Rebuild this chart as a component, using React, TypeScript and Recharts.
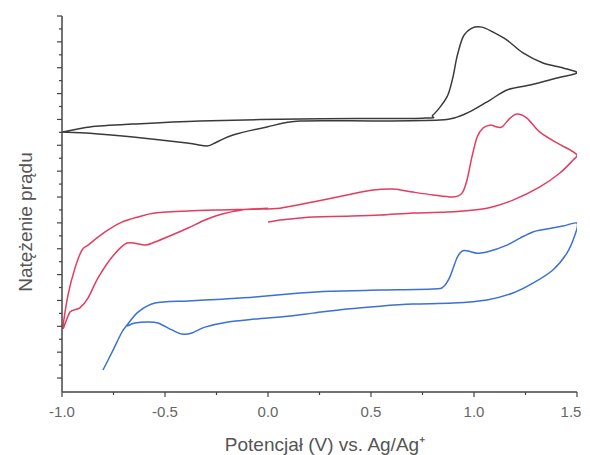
import { LineChart, Line, XAxis, YAxis, Label } from "recharts";

// potential (V vs. Ag/Ag+) and current (arb. units)
const blackV = [
  -1.0, -0.864, -0.655, -0.33, 0.155, 0.752, 0.801, 0.869, 0.898, 0.917, 0.947, 0.99, 1.039,
  1.092, 1.16, 1.238, 1.335, 1.432, 1.5, 1.403, 1.272, 1.16, 1.078, 0.995, 0.917, 0.835, 0.544,
  0.155, -0.005, -0.17, -0.248, -0.296, -0.393, -0.655, -0.864, -1.0,
];
const blackI = [
  9.51, 9.71, 9.82, 9.94, 10.02, 10.05, 10.17, 10.87, 11.64, 12.41, 13.19, 13.53, 13.57,
  13.38, 13.07, 12.57, 12.18, 11.99, 11.8, 11.6, 11.33, 11.14, 10.75, 10.36, 10.09, 9.98, 9.94,
  9.94, 9.71, 9.4, 9.13, 8.97, 9.09, 9.32, 9.47, 9.51,
];

const redV = [
  0.0, 0.058, 0.155, 0.218, 0.383, 0.544, 0.704, 0.869, 1.063, 1.189, 1.32, 1.417, 1.481, 1.5,
  1.466, 1.403, 1.32, 1.257, 1.209, 1.175, 1.136, 1.112, 1.078, 1.044, 1.015, 0.99, 0.966, 0.942,
  0.898, 0.801, 0.704, 0.607, 0.51, 0.383, 0.218, 0.058, -0.063, -0.223, -0.388, -0.549, -0.631,
  -0.709, -0.791, -0.874, -0.903, -0.937, -0.971, -0.995,
  -0.961, -0.913, -0.874, -0.825, -0.757, -0.684, -0.597, -0.549, -0.466, -0.388, -0.306, -0.223,
  -0.126, 0.0,
];
const redI = [
  6.03, 6.11, 6.19, 6.23, 6.26, 6.3, 6.38, 6.42, 6.57, 6.88, 7.39, 7.93, 8.43, 8.62,
  8.82, 9.09, 9.51, 10.05, 10.21, 10.05, 9.71, 9.71, 9.78, 9.67, 9.32, 8.55, 7.66, 7.15,
  7.0, 7.08, 7.19, 7.31, 7.27, 7.08, 6.81, 6.57, 6.53, 6.5, 6.46, 6.38, 6.23,
  6.03, 5.65, 5.14, 4.95, 4.25, 3.21, 1.93,
  2.55, 2.71, 3.09, 3.87, 4.68, 5.22, 5.14, 5.26, 5.53, 5.8, 6.11, 6.34,
  6.5, 6.57,
];

const blueV = [
  -0.801, -0.752, -0.709, -0.684, -0.631, -0.549, -0.388, -0.223, -0.063, 0.155, 0.301, 0.544,
  0.801, 0.85, 0.883, 0.917, 0.942, 0.971, 1.015, 1.063, 1.16, 1.223, 1.286, 1.354, 1.432, 1.5,
  1.49, 1.451, 1.383, 1.286, 1.189, 1.063, 0.898, 0.704, 0.544, 0.383, 0.218, 0.107, -0.063,
  -0.194, -0.306, -0.369, -0.417, -0.466, -0.534, -0.583, -0.646, -0.684,
];
const blueI = [
  0.31, 1.08, 1.78, 2.05, 2.55, 2.9, 2.98, 3.05, 3.13, 3.29, 3.36, 3.4,
  3.44, 3.52, 3.91, 4.64, 4.91, 4.91, 4.83, 4.87, 5.14, 5.41, 5.65, 5.76, 5.88, 5.99,
  5.53, 4.83, 4.18, 3.67, 3.29, 3.02, 2.9, 2.86, 2.78, 2.67, 2.51, 2.4, 2.28,
  2.17, 1.97, 1.74, 1.7, 1.86, 2.13, 2.17, 2.13, 2.01,
];

const xTicks = [-1.0, -0.75, -0.5, -0.25, 0.0, 0.25, 0.5, 0.75, 1.0, 1.25, 1.5];
const yTicks = Array.from({ length: 29 }, (_, i) => i * 0.5);

const toPoints = (xs: number[], ys: number[]) => xs.map((x, i) => ({ x, y: ys[i] }));

const blackData = toPoints(blackV, blackI);
const redData = toPoints(redV, redI);
const blueData = toPoints(blueV, blueI);

const WIDTH = 574;
const HEIGHT = 447;

const axisColor = "#444";
const tickColor = "#666";
const titleColor = "#555";
const font = "'Liberation Sans', Arial, sans-serif";

// the curves loop back on themselves, so smooth them as parametric paths
// (catmull-rom, a bit tighter than usual so the turning points don't overshoot)
const loopCurve = (context: any) => {
  let pts: number[][] = [];
  const k = 1 / 7;
  return {
    areaStart() {},
    areaEnd() {},
    lineStart() {
      pts = [];
    },
    point(x: number, y: number) {
      pts.push([+x, +y]);
    },
    lineEnd() {
      if (!pts.length) return;
      context.moveTo(pts[0][0], pts[0][1]);
      for (let i = 0; i < pts.length - 1; i++) {
        const p0 = pts[i - 1] || pts[i];
        const p1 = pts[i];
        const p2 = pts[i + 1];
        const p3 = pts[i + 2] || p2;
        context.bezierCurveTo(
          p1[0] + (p2[0] - p0[0]) * k,
          p1[1] + (p2[1] - p0[1]) * k,
          p2[0] - (p3[0] - p1[0]) * k,
          p2[1] - (p3[1] - p1[1]) * k,
          p2[0],
          p2[1]
        );
      }
    },
  };
};

const XTick = (props: any) => {
  const { x, y, payload } = props;
  const v = payload.value as number;
  const major = Math.abs(v * 2 - Math.round(v * 2)) < 1e-6;
  // keep the last label inside the chart box
  const tx = Math.min(x, WIDTH - 11);
  return (
    <g>
      <line x1={x} x2={x} y1={y} y2={y + (major ? 5 : 3)} stroke={axisColor} strokeWidth={1.2} />
      {major && (
        <text x={tx} y={y + 25} textAnchor="middle" fontSize={15} fill={tickColor} fontFamily={font}>
          {v.toFixed(1)}
        </text>
      )}
    </g>
  );
};

const YTick = (props: any) => {
  const { x, y, payload } = props;
  const v = payload.value as number;
  const major = Math.abs(v - Math.round(v)) < 1e-6;
  return <line x1={x} x2={x - (major ? 5 : 3)} y1={y} y2={y} stroke={axisColor} strokeWidth={1.2} />;
};

const XTitle = () => (
  <text x={317} y={443} textAnchor="middle" fontSize={19} fill={titleColor} fontFamily={font}>
    Potencjał (V) vs. Ag/Ag⁺
  </text>
);

const YTitle = () => (
  <text
    x={17}
    y={214}
    transform="rotate(-90 17 214)"
    textAnchor="middle"
    dominantBaseline="central"
    fontSize={19}
    fill={titleColor}
    fontFamily={font}
  >
    Natężenie prądu
  </text>
);

export default function App() {
  return (
    <LineChart width={WIDTH} height={HEIGHT} margin={{ top: 8, right: 5, bottom: 0, left: 0 }}>
      <XAxis
        type="number"
        dataKey="x"
        domain={[-1, 1.5]}
        ticks={xTicks}
        interval={0}
        tickSize={0}
        tickMargin={0}
        tickLine={false}
        tick={XTick}
        height={63}
        axisLine={{ stroke: axisColor, strokeWidth: 1.5 }}
        allowDataOverflow
      >
        <Label content={XTitle} />
      </XAxis>
      <YAxis
        type="number"
        dataKey="y"
        domain={[-0.54, 14]}
        ticks={yTicks}
        interval={0}
        tickSize={0}
        tickMargin={0}
        tickLine={false}
        tick={YTick}
        width={54}
        axisLine={{ stroke: axisColor, strokeWidth: 1.5 }}
        allowDataOverflow
      >
        <Label content={YTitle} />
      </YAxis>
      <Line data={blackData} dataKey="y" type={loopCurve as any} stroke="#3a3a3a" strokeWidth={1.5} dot={false} isAnimationActive={false} />
      <Line data={redData} dataKey="y" type={loopCurve as any} stroke="#e53b5c" strokeWidth={1.5} dot={false} isAnimationActive={false} />
      <Line data={blueData} dataKey="y" type={loopCurve as any} stroke="#3b70d6" strokeWidth={1.5} dot={false} isAnimationActive={false} />
    </LineChart>
  );
}
